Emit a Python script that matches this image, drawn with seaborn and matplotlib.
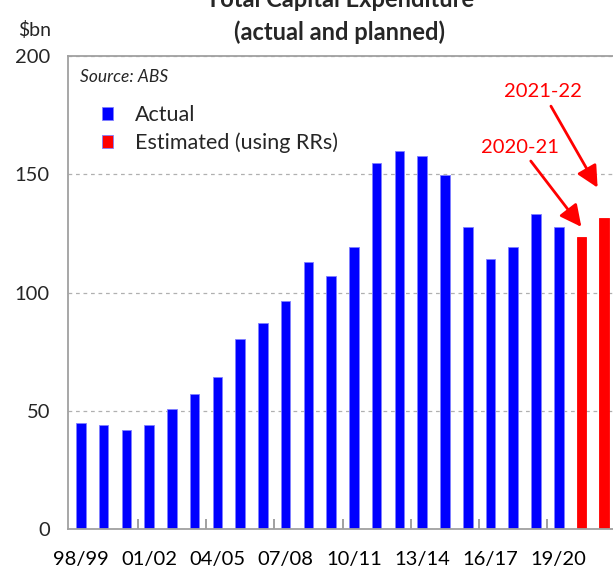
import pandas as pd
import numpy as np
import matplotlib.pyplot as plt
import seaborn as sns
from matplotlib.ticker import FixedLocator, NullFormatter

# Datos
years = ['98/99', '99/00', '00/01', '01/02', '02/03', '03/04', '04/05', '05/06',
         '06/07', '07/08', '08/09', '09/10', '10/11', '11/12', '12/13', '13/14',
         '14/15', '15/16', '16/17', '17/18', '18/19', '19/20', '20/21', '21/22']
capex = [44.8, 44.0, 42.0, 44.0, 50.8, 57.0, 64.3, 80.4, 87.1, 96.5, 113.0, 107.0,
         119.2, 154.7, 160.0, 157.7, 149.7, 127.6, 114.0, 119.1, 133.2, 127.6,
         123.5, 131.5]
kind = ['Actual'] * 22 + ['Estimated (using RRs)'] * 2
tick_labels = ['98/99', '01/02', '04/05', '07/08', '10/11', '13/14', '16/17', '19/20']

df = pd.DataFrame({'year': years, 'capex': capex, 'kind': kind})

sns.set_style('white')
plt.rcParams['font.family'] = ['Lato', 'DejaVu Sans']

fig = plt.figure(figsize=(6.13, 5.70), dpi=100)
ax = fig.add_axes([68 / 613, 1 - 529 / 570, (615.6 - 68) / 613, (529 - 56) / 570])

sns.barplot(data=df, x='year', y='capex', hue='kind',
            palette={'Actual': '#0000FF', 'Estimated (using RRs)': '#FF0000'},
            saturation=1, dodge=False, width=0.42, edgecolor='#8080FF',
            linewidth=0.6, ax=ax)
for p, k in zip(ax.patches, kind):
    if k != 'Actual':
        p.set_edgecolor('#FF0000')

ax.set_xlim(-0.57, 23.5)
ax.set_ylim(0, 200)
ax.set_yticks([0, 50, 100, 150, 200])
ax.yaxis.grid(True, linestyle=(0, (3, 3)), color='#B0B0B0', linewidth=0.9)
ax.set_axisbelow(True)

# marcas entre grupos de 3 años, etiquetas centradas en la barra
ax.xaxis.set_major_locator(FixedLocator(np.arange(2.5, 23, 3)))
ax.xaxis.set_major_formatter(NullFormatter())
ax.xaxis.set_minor_locator(FixedLocator([years.index(t) for t in tick_labels]))
ax.set_xticklabels(tick_labels, minor=True)
ax.tick_params(axis='x', which='major', direction='in', length=7, width=1.2,
               color='#909090', bottom=True)
ax.tick_params(axis='x', which='minor', length=0, pad=16, labelsize=14.5,
               colors='black', bottom=True)
ax.tick_params(axis='y', length=0, pad=13, labelsize=14.5)
ax.set_xlabel('')
ax.set_ylabel('')

for side in ['left', 'top', 'bottom']:
    ax.spines[side].set_color('#A0A0A0')
    ax.spines[side].set_linewidth(1.3)
ax.spines['right'].set_visible(False)

ax.legend(loc='upper left', bbox_to_anchor=(0.026, 0.937), frameon=False,
          fontsize=15.5, handlelength=0.55, handleheight=0.55, handletextpad=1.0,
          labelspacing=0.33)

ax.text(0.022, 0.972, 'Source: ABS', transform=ax.transAxes, style='italic',
        fontsize=12.5, va='top', ha='left')

fig.text(340 / 613, 1 - 7 / 570, 'Total Capital Expenditure', ha='center',
         va='baseline', fontsize=17, fontweight='bold')
fig.text(340 / 613, 1 - 40 / 570, '(actual and planned)', ha='center',
         va='baseline', fontsize=17, fontweight='bold')
fig.text(35 / 613, 1 - 30 / 570, '$bn', ha='center', va='center', fontsize=14)

arrow = dict(arrowstyle='-|>,head_length=0.9,head_width=0.45', color='#FF0000', lw=2)
ax.annotate('2020-21', xy=(22.07, 126.8), xytext=(19.3, 161.5), color='#FF0000',
            fontsize=14.5, ha='center', va='center', arrowprops=arrow)
ax.annotate('2021-22', xy=(22.77, 143.3), xytext=(20.3, 184.8), color='#FF0000',
            fontsize=14.5, ha='center', va='center', arrowprops=arrow)

fig.savefig('out.png', dpi=100)
